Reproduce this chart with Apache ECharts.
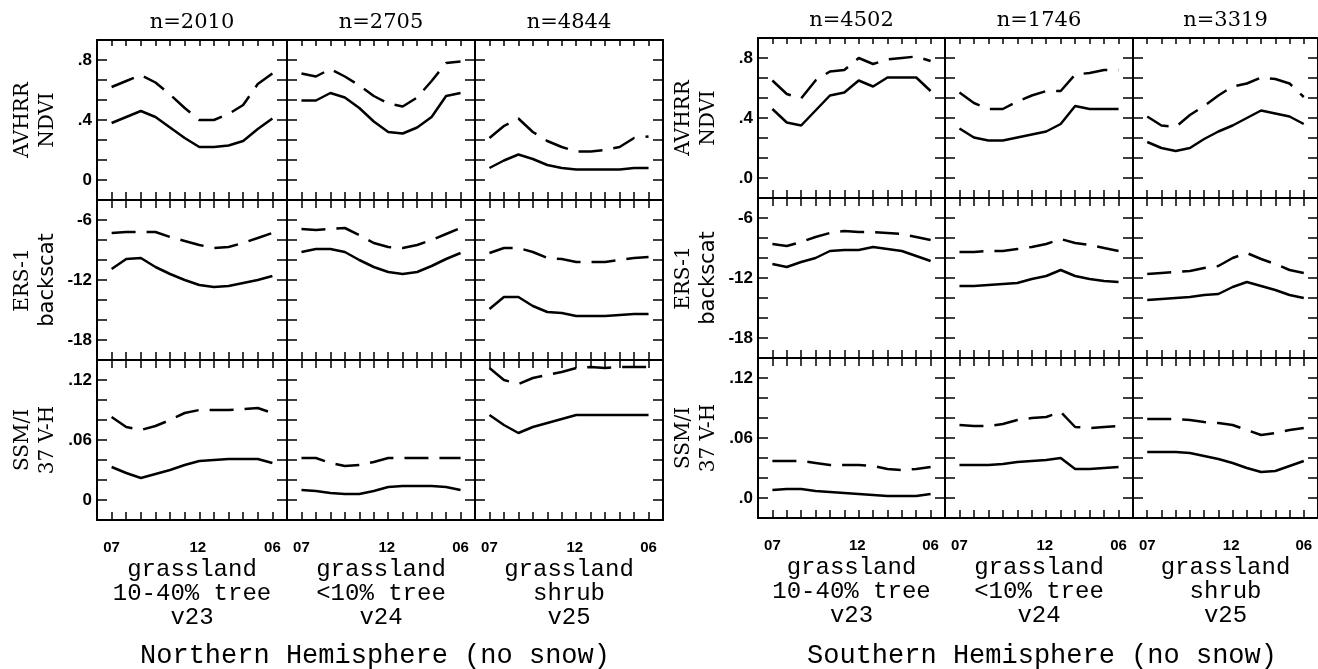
<!DOCTYPE html>
<html>
<head>
<meta charset="utf-8">
<script src="https://cdn.jsdelivr.net/npm/echarts@6/dist/echarts.min.js"></script>
<style>
html, body { margin: 0; padding: 0; background: #fff; }
#chart { width: 1318px; height: 669px; }
</style>
</head>
<body>
<div id="chart"></div>
<script>
// months along each panel, July to June
const months = ['07', '08', '09', '10', '11', '12', '01', '02', '03', '04', '05', '06'];
const monthLabels = ['07', '12', '06'];
const monthLabelAt = [0, 5.9, 11];

const classNames = ['grassland\n10-40% tree\nv23', 'grassland\n<10% tree\nv24', 'grassland\nshrub\nv25'];
const nhCounts = ['n=2010', 'n=2705', 'n=4844'];
const shCounts = ['n=4502', 'n=1746', 'n=3319'];

// y tick labels
const ndviTicks = [0, 0.4, 0.8];
const nhNdviLabels = ['0', '.4', '.8'];
const shNdviLabels = ['.0', '.4', '.8'];
const ersTicks = [-18, -12, -6];
const ersLabels = ['-18', '-12', '-6'];
const ssmTicks = [0, 0.06, 0.12];
const nhSsmLabels = ['0', '.06', '.12'];
const shSsmLabels = ['.0', '.06', '.12'];

// Northern Hemisphere (v23, v24, v25)
const nhNdviDash = [
  [0.62, 0.66, 0.70, 0.65, 0.57, 0.48, 0.40, 0.40, 0.44, 0.50, 0.64, 0.71],
  [0.71, 0.69, 0.74, 0.69, 0.63, 0.56, 0.51, 0.49, 0.55, 0.66, 0.78, 0.79],
  [0.28, 0.36, 0.41, 0.32, 0.26, 0.22, 0.19, 0.19, 0.20, 0.22, 0.28, 0.29]
];
const nhNdviSolid = [
  [0.38, 0.42, 0.46, 0.42, 0.35, 0.28, 0.22, 0.22, 0.23, 0.26, 0.34, 0.41],
  [0.53, 0.53, 0.58, 0.55, 0.48, 0.39, 0.32, 0.31, 0.35, 0.42, 0.56, 0.58],
  [0.08, 0.13, 0.17, 0.14, 0.10, 0.08, 0.07, 0.07, 0.07, 0.07, 0.08, 0.08]
];
const nhErsDash = [
  [-7.3, -7.2, -7.2, -7.2, -7.7, -8.1, -8.5, -8.8, -8.7, -8.3, -7.8, -7.3],
  [-6.9, -7.0, -6.9, -6.8, -7.5, -8.3, -8.7, -8.8, -8.5, -8.0, -7.4, -6.8],
  [-9.3, -8.8, -8.8, -9.2, -9.8, -9.9, -10.2, -10.2, -10.2, -10.0, -9.8, -9.7]
];
const nhErsSolid = [
  [-10.9, -9.9, -9.8, -10.7, -11.4, -12.0, -12.5, -12.7, -12.6, -12.3, -12.0, -11.6],
  [-9.2, -8.9, -8.9, -9.2, -10.0, -10.7, -11.2, -11.4, -11.2, -10.6, -9.9, -9.3],
  [-14.9, -13.7, -13.7, -14.6, -15.2, -15.3, -15.6, -15.6, -15.6, -15.5, -15.4, -15.4]
];
const nhSsmDash = [
  [0.083, 0.073, 0.070, 0.074, 0.080, 0.087, 0.090, 0.090, 0.090, 0.091, 0.092, 0.087],
  [0.042, 0.042, 0.037, 0.034, 0.035, 0.038, 0.042, 0.042, 0.042, 0.042, 0.042, 0.042],
  [0.132, 0.120, 0.116, 0.122, 0.125, 0.128, 0.132, 0.133, 0.132, 0.133, 0.133, 0.133]
];
const nhSsmSolid = [
  [0.033, 0.027, 0.022, 0.026, 0.030, 0.035, 0.039, 0.040, 0.041, 0.041, 0.041, 0.037],
  [0.010, 0.009, 0.007, 0.006, 0.006, 0.009, 0.013, 0.014, 0.014, 0.014, 0.013, 0.010],
  [0.085, 0.075, 0.067, 0.073, 0.077, 0.081, 0.085, 0.085, 0.085, 0.085, 0.085, 0.085]
];

// Southern Hemisphere (v23, v24, v25)
const shNdviDash = [
  [0.65, 0.56, 0.53, 0.65, 0.71, 0.72, 0.80, 0.76, 0.79, 0.80, 0.81, 0.78],
  [0.57, 0.50, 0.46, 0.46, 0.51, 0.55, 0.58, 0.58, 0.69, 0.70, 0.72, 0.72],
  [0.41, 0.35, 0.34, 0.42, 0.48, 0.55, 0.61, 0.63, 0.67, 0.66, 0.63, 0.54]
];
const shNdviSolid = [
  [0.46, 0.37, 0.35, 0.45, 0.55, 0.57, 0.65, 0.61, 0.67, 0.67, 0.67, 0.58],
  [0.33, 0.27, 0.25, 0.25, 0.27, 0.29, 0.31, 0.36, 0.48, 0.46, 0.46, 0.46],
  [0.24, 0.20, 0.18, 0.20, 0.26, 0.31, 0.35, 0.40, 0.45, 0.43, 0.41, 0.36]
];
const shErsDash = [
  [-8.6, -8.8, -8.4, -7.9, -7.5, -7.3, -7.4, -7.4, -7.5, -7.6, -7.9, -8.2],
  [-9.4, -9.4, -9.3, -9.3, -9.1, -8.9, -8.6, -8.1, -8.5, -8.7, -9.0, -9.3],
  [-11.6, -11.5, -11.4, -11.3, -11.0, -10.8, -10.0, -9.5, -10.1, -10.6, -11.2, -11.5]
];
const shErsSolid = [
  [-10.6, -10.9, -10.4, -10.0, -9.3, -9.2, -9.2, -8.9, -9.1, -9.3, -9.8, -10.3],
  [-12.8, -12.8, -12.7, -12.6, -12.5, -12.1, -11.8, -11.2, -11.8, -12.1, -12.3, -12.4],
  [-14.2, -14.1, -14.0, -13.9, -13.7, -13.6, -12.9, -12.4, -12.8, -13.2, -13.7, -14.0]
];
const shSsmDash = [
  [0.037, 0.037, 0.037, 0.035, 0.033, 0.033, 0.033, 0.032, 0.029, 0.028, 0.029, 0.031],
  [0.073, 0.072, 0.072, 0.074, 0.078, 0.080, 0.081, 0.086, 0.071, 0.070, 0.071, 0.072],
  [0.079, 0.079, 0.079, 0.078, 0.076, 0.075, 0.073, 0.068, 0.063, 0.065, 0.068, 0.070]
];
const shSsmSolid = [
  [0.008, 0.009, 0.009, 0.007, 0.006, 0.005, 0.004, 0.003, 0.002, 0.002, 0.002, 0.004],
  [0.033, 0.033, 0.033, 0.034, 0.036, 0.037, 0.038, 0.040, 0.029, 0.029, 0.030, 0.031],
  [0.046, 0.046, 0.046, 0.045, 0.042, 0.039, 0.035, 0.030, 0.026, 0.027, 0.032, 0.037]
];

const chart = echarts.init(document.getElementById('chart'));

const SERIF = '"DejaVu Serif", "Liberation Serif", serif';
const SANS = '"Liberation Sans", "DejaVu Sans", sans-serif';
const MONO = '"Liberation Mono", "DejaVu Sans Mono", monospace';

const panels = [
  {
    lefts: [97, 287, 475], widths: [190, 188, 188], top: 40, counts: nhCounts,
    yLabels: [nhNdviLabels, ersLabels, nhSsmLabels],
    data: [[nhNdviDash, nhNdviSolid], [nhErsDash, nhErsSolid], [nhSsmDash, nhSsmSolid]],
    title: 'Northern Hemisphere (no snow)', titleX: 375
  },
  {
    lefts: [758, 945, 1133], widths: [187, 188, 185], top: 38, counts: shCounts,
    yLabels: [shNdviLabels, ersLabels, shSsmLabels],
    data: [[shNdviDash, shNdviSolid], [shErsDash, shErsSolid], [shSsmDash, shSsmSolid]],
    title: 'Southern Hemisphere (no snow)', titleX: 1042
  }
];

const rows = [
  { min: -0.4 / 3, max: 2.8 / 3, interval: 0.4 / 3, ticks: ndviTicks, name: '{s|AVHRR}\n{s|NDVI}' },
  { min: -20, max: -4, interval: 2, ticks: ersTicks, name: '{s|ERS-1}\n{n|backscat}' },
  { min: -0.02, max: 0.14, interval: 0.02, ticks: ssmTicks, name: '{s|SSM/I}\n{s|37 V-H}' }
];
const ROW_H = 160;

const pick = (vals, labels) => (v) => {
  for (let i = 0; i < vals.length; i++) {
    if (Math.abs(vals[i] - v) < 1e-6) return labels[i];
  }
  return '';
};

const axisLine = { show: true, onZero: false, lineStyle: { color: '#000', width: 2 } };
const tickStyle = { color: '#000', width: 1.5 };

const grid = [], xAxis = [], yAxis = [], series = [];

panels.forEach((p) => {
  rows.forEach((row, r) => {
    p.lefts.forEach((left, c) => {
      const g = grid.length;
      grid.push({
        left: left, top: p.top + r * ROW_H, width: p.widths[c], height: ROW_H,
        outerBoundsMode: 'none'
      });
      // bottom x axis
      xAxis.push({
        type: 'value', gridIndex: g, position: 'bottom', min: -1, max: 12, interval: 1,
        axisLine: axisLine,
        axisTick: { inside: true, length: 8, lineStyle: tickStyle },
        splitLine: { show: false },
        axisLabel: r === 2 ? {
          show: true, customValues: monthLabelAt, margin: 20,
          formatter: pick(monthLabelAt, monthLabels),
          color: '#000', fontFamily: SANS, fontWeight: 'bold', fontSize: 15
        } : { show: false },
        name: r === 2 ? classNames[c] : '',
        nameLocation: 'middle', nameGap: 38,
        nameTextStyle: { color: '#000', fontFamily: MONO, fontSize: 24, lineHeight: 24 }
      });
      // top x axis
      xAxis.push({
        type: 'value', gridIndex: g, position: 'top', min: -1, max: 12, interval: 1,
        axisLine: axisLine,
        axisTick: { inside: true, length: r === 0 ? 6 : 8, lineStyle: tickStyle },
        splitLine: { show: false },
        axisLabel: { show: false },
        name: r === 0 ? p.counts[c] : '',
        nameLocation: 'middle', nameGap: 7,
        nameTextStyle: { color: '#000', fontFamily: SERIF, fontSize: 21 }
      });
      // left y axis
      yAxis.push({
        type: 'value', gridIndex: g, position: 'left', min: row.min, max: row.max, interval: row.interval,
        axisLine: axisLine,
        axisTick: { inside: true, length: 10, lineStyle: tickStyle },
        splitLine: { show: false },
        axisLabel: c === 0 ? {
          show: true, customValues: row.ticks, margin: 5,
          formatter: pick(row.ticks, p.yLabels[r]),
          color: '#000', fontFamily: SANS, fontWeight: 'bold', fontSize: 17
        } : { show: false },
        name: c === 0 ? row.name : '',
        nameLocation: 'middle', nameRotate: 90, nameGap: 37,
        nameTextStyle: {
          color: '#000', lineHeight: 25,
          rich: {
            s: { fontFamily: SERIF, fontSize: 20, lineHeight: 25, color: '#000' },
            n: { fontFamily: '"DejaVu Sans", sans-serif', fontSize: 21, lineHeight: 25, color: '#000' }
          }
        }
      });
      // right y axis
      yAxis.push({
        type: 'value', gridIndex: g, position: 'right', min: row.min, max: row.max, interval: row.interval,
        axisLine: axisLine,
        axisTick: { inside: true, length: 10, lineStyle: tickStyle },
        splitLine: { show: false },
        axisLabel: { show: false }
      });
      const [dash, solid] = p.data[r];
      series.push({
        type: 'line', xAxisIndex: 2 * g, yAxisIndex: 2 * g, symbol: 'none', silent: true,
        data: months.map((m, i) => [i, dash[c][i]]),
        lineStyle: { color: '#000', width: 2.5, type: [24, 11] }
      });
      series.push({
        type: 'line', xAxisIndex: 2 * g, yAxisIndex: 2 * g, symbol: 'none', silent: true,
        data: months.map((m, i) => [i, solid[c][i]]),
        lineStyle: { color: '#000', width: 2.5 }
      });
    });
  });
});

chart.setOption({
  backgroundColor: '#fff',
  animation: false,
  grid: grid,
  xAxis: xAxis,
  yAxis: yAxis,
  series: series,
  graphic: panels.map((p) => ({
    type: 'text', x: p.titleX, y: 656,
    style: {
      text: p.title, fill: '#000', font: '27px ' + MONO,
      align: 'center', verticalAlign: 'middle', textAlign: 'center', textVerticalAlign: 'middle'
    }
  }))
});

window.addEventListener('resize', () => chart.resize());
</script>
</body>
</html>
